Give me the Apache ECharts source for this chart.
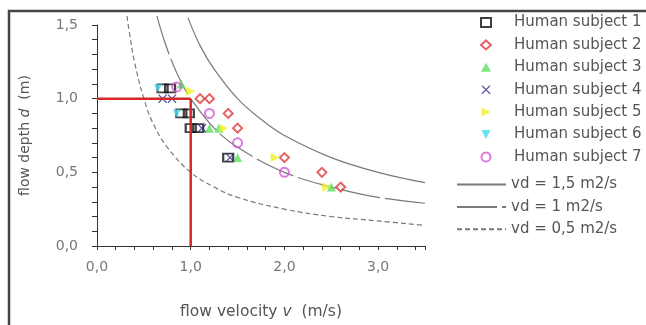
<!DOCTYPE html>
<html><head><meta charset="utf-8">
<script src="https://cdn.jsdelivr.net/npm/echarts@6/dist/echarts.min.js"></script>
<style>html,body{margin:0;padding:0;background:#fff}#c{width:646px;height:325px}</style>
</head><body><div id="c"></div>
<script>
// Data (flow velocity v [m/s], flow depth d [m])
const subjectNames = ['Human subject 1','Human subject 2','Human subject 3','Human subject 4','Human subject 5','Human subject 6','Human subject 7'];
const subject1 = [[0.7,1.07],[0.78,1.07],[0.9,0.9],[0.98,0.9],[1.0,0.8],[1.08,0.8],[1.4,0.6]];
const subject2 = [[1.1,1.0],[1.2,1.0],[1.4,0.9],[1.5,0.8],[2.0,0.6],[2.4,0.5],[2.6,0.4]];
const subject3 = [[0.9,1.1],[1.2,0.8],[1.3,0.8],[1.5,0.6],[2.5,0.4]];
const subject4 = [[0.7,1.0],[0.8,1.0],[1.12,0.8],[1.42,0.6]];
const subject5 = [[1.0,1.05],[1.35,0.8],[1.9,0.6],[2.45,0.4]];
const subject6 = [[0.65,1.07],[0.85,0.9]];
const subject7 = [[0.85,1.08],[1.2,0.9],[1.5,0.7],[2.0,0.5]];
const curveNames = ['vd = 1,5 m2/s','vd = 1 m2/s','vd = 0,5 m2/s'];
const vd15 = [[0.97,1.55],[1.1,1.36],[1.25,1.2],[1.5,1.0],[1.75,0.86],[2.0,0.75],[2.5,0.6],[3.0,0.5],[3.5,0.43]];
const vd10 = [[0.64,1.56],[0.7,1.43],[0.8,1.25],[0.9,1.11],[1.0,1.0],[1.25,0.8],[1.5,0.67],[2.0,0.5],[2.5,0.4],[3.0,0.33],[3.5,0.29]];
const vd05 = [[0.32,1.56],[0.35,1.43],[0.4,1.25],[0.5,1.0],[0.6,0.83],[0.75,0.67],[1.0,0.5],[1.25,0.4],[1.5,0.33],[2.0,0.25],[2.5,0.2],[3.0,0.17],[3.5,0.14]];
const redH = [[0,1.0],[1.0,1.0]];
const redV = [[1.0,1.0],[1.0,0]];
const xTicks = {0:'0,0',1:'1,0',2:'2,0',3:'3,0'};
const yTicks = {0:'0,0',0.5:'0,5',1:'1,0',1.5:'1,5'};

const FONT = 'DejaVu Sans';
const chart = echarts.init(document.getElementById('c'), null, {renderer:'canvas'});
const open = (c)=>({color:'rgba(0,0,0,0)', borderColor:c, borderWidth:2});
const X_PATH = 'path://M0,1L1,0L5,4L9,0L10,1L6,5L10,9L9,10L5,6L1,10L0,9L4,5Z';
const RIGHT_TRI = 'path://M0,0L10,5L0,10Z';
const DOWN_TRI = 'path://M0,0L10,0L5,10Z';
const sc = (name, data, symbol, size, style) => ({
  name, type:'scatter', data, symbol, symbolSize:size, itemStyle:style, z:3, emphasis:{disabled:true}
});
const curve = (name, data, type) => ({
  name, type:'line', data, smooth:0.4, symbol:'none', clip:false, z:2,
  lineStyle:{color:'#7a7a7a', width:1.2, type}, emphasis:{disabled:true}
});
const red = (data) => ({type:'line', data, symbol:'none', z:4, lineStyle:{color:'#d62828', width:2.5}, emphasis:{disabled:true}});

chart.setOption({
  animation:false,
  backgroundColor:'#fff',
  grid:{left:97, top:25, right:221, bottom:74},
  xAxis:{type:'value', min:0, max:3.5, interval:1,
    axisLine:{lineStyle:{color:'#333', width:1}},
    axisTick:{show:true, length:4, lineStyle:{color:'#333'}},
    minorTick:{show:true, splitNumber:5, length:4, lineStyle:{color:'#333'}},
    splitLine:{show:false},
    axisLabel:{color:'#777', fontFamily:FONT, fontSize:14, margin:14, formatter:v=>xTicks[v]!==undefined?xTicks[v]:''},
    name:'flow velocity {i|v}  (m/s)', nameLocation:'middle', nameGap:58,
    nameTextStyle:{color:'#555', fontFamily:FONT, fontSize:15.5, rich:{i:{fontStyle:'italic', color:'#555', fontFamily:FONT, fontSize:15.5}}}
  },
  yAxis:{type:'value', min:0, max:1.5, interval:0.5,
    axisLine:{show:true, lineStyle:{color:'#333', width:1}},
    axisTick:{show:true, length:5, lineStyle:{color:'#333'}},
    minorTick:{show:true, splitNumber:5, length:5, lineStyle:{color:'#333'}},
    splitLine:{show:false},
    axisLabel:{color:'#777', fontFamily:FONT, fontSize:14, margin:19, formatter:v=>yTicks[v]!==undefined?yTicks[v]:''},
    name:'flow depth {i|d}  (m)', nameLocation:'middle', nameGap:65,
    nameTextStyle:{color:'#555', fontFamily:FONT, fontSize:14, rich:{i:{fontStyle:'italic', color:'#555', fontFamily:FONT, fontSize:14}}}
  },
  legend:[
    {data:subjectNames, orient:'vertical', left:480, top:15, padding:0, itemWidth:10, itemHeight:9, itemGap:7.4,
     textStyle:{color:'#555', fontFamily:FONT, fontSize:15, padding:[0,0,0,18]}, selectedMode:false},
    {data:curveNames, orient:'vertical', left:456, top:177, padding:0, itemWidth:49, itemHeight:9, itemGap:7.4,
     itemStyle:{opacity:0},
     textStyle:{color:'#555', fontFamily:FONT, fontSize:15}, selectedMode:false}
  ],
  graphic:[
    {type:'polyline', shape:{points:[[9,325],[9,11],[646,11]]}, style:{stroke:'#444', lineWidth:2.5, fill:null}, silent:true}
  ],
  series:[
    curve(curveNames[0], vd15, 'solid'),
    curve(curveNames[1], vd10, [40,5]),
    curve(curveNames[2], vd05, [5,3]),
    red(redH), red(redV),
    sc(subjectNames[0], subject1, 'rect', [10,8], open('#111')),
    sc(subjectNames[1], subject2, 'diamond', 9, open('#e03a3a')),
    sc(subjectNames[2], subject3, 'triangle', 9, {color:'#5ee05e'}),
    sc(subjectNames[3], subject4, X_PATH, 9, {color:'#2a2a8c'}),
    sc(subjectNames[4], subject5, RIGHT_TRI, 9, {color:'#f0f020'}),
    sc(subjectNames[5], subject6, DOWN_TRI, 8, {color:'#45d8ee'}),
    sc(subjectNames[6], subject7, 'circle', 9, open('#d658d6'))
  ]
});
</script></body></html>
